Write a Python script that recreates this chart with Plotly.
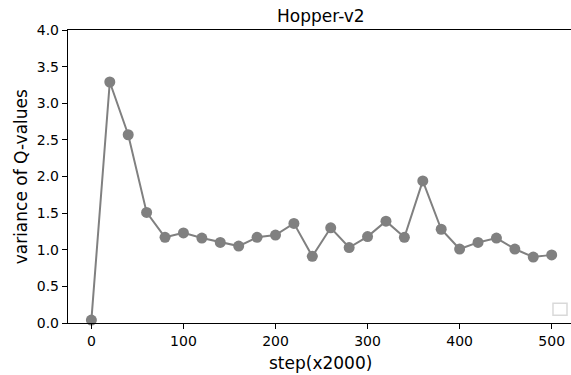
import plotly.graph_objects as go

steps = [0, 20, 40, 60, 80, 100, 120, 140, 160, 180, 200, 220, 240,
         260, 280, 300, 320, 340, 360, 380, 400, 420, 440, 460, 480, 500]
variance = [0.04, 3.29, 2.57, 1.51, 1.17, 1.23, 1.16, 1.10, 1.05, 1.17, 1.20, 1.36, 0.91,
            1.30, 1.03, 1.18, 1.39, 1.17, 1.94, 1.28, 1.01, 1.10, 1.16, 1.01, 0.90, 0.93]
x_ticks = [0, 100, 200, 300, 400, 500]
y_ticks = [0.0, 0.5, 1.0, 1.5, 2.0, 2.5, 3.0, 3.5, 4.0]

# page body margin is removed by the post_script below, so figure == window
W, H = 571, 375
left, top, bottom, right = 68.3, 30.0, 322.7, 571.0   # window px of plot area
ml = left
mt = top
mb = H - bottom
mr = W - right

def px(xw):
    return (xw - left) / (right - left)

def py(yw):
    return (bottom - yw) / (bottom - top)

fig = go.Figure()
fig.add_trace(go.Scatter(
    x=steps, y=variance, mode="lines+markers",
    line=dict(color="#808080", width=2),
    marker=dict(color="#808080", size=11),
    showlegend=False, cliponaxis=False, hoverinfo="skip",
))

font = "DejaVu Sans"
fig.update_layout(
    width=W, height=H,
    margin=dict(l=ml, r=mr, t=mt, b=mb, pad=0, autoexpand=False),
    plot_bgcolor="white", paper_bgcolor="white",
    font=dict(family=font, color="black", size=14),
    showlegend=False, hovermode=False,
    xaxis=dict(
        range=[-25.4, 521], tickvals=x_ticks, ticktext=[str(v) for v in x_ticks],
        showgrid=False, zeroline=False, showline=True, linecolor="black", linewidth=1.2,
        mirror=True, ticks="outside", ticklen=5, tickcolor="black", tickwidth=1,
        tickfont=dict(size=14, family=font), automargin=False,
    ),
    yaxis=dict(
        range=[0, 4], tickvals=y_ticks, ticktext=[f"{v:.1f}" for v in y_ticks],
        showgrid=False, zeroline=False, showline=True, linecolor="black", linewidth=1.2,
        mirror=False, ticks="outside", ticklen=5, tickcolor="black", tickwidth=1,
        tickfont=dict(size=14, family=font), automargin=False,
    ),
)

def note(text, xw, yw, size, angle=0):
    fig.add_annotation(
        text=text, xref="paper", yref="paper", x=px(xw), y=py(yw),
        xanchor="center", yanchor="middle", showarrow=False, textangle=angle,
        borderpad=0, font=dict(size=size, family=font, color="black"),
    )

note("Hopper-v2", 321.0, 16.0, 17)
note("step(x2000)", 320.5, 363.0, 17)
note("variance of Q-values", 21.0, 176.5, 17, angle=-90)

# empty legend box (bottom right)
fig.add_shape(type="rect", xref="paper", yref="paper",
              x0=px(553), x1=px(567), y0=py(315), y1=py(303),
              line=dict(color="#d9d9d9", width=1.5), fillcolor="rgba(255,255,255,0.8)")

fig.write_html(
    "out.html",
    config={"displayModeBar": False, "staticPlot": True},
    post_script="document.body.style.margin='0';document.body.style.overflow='hidden';",
)
